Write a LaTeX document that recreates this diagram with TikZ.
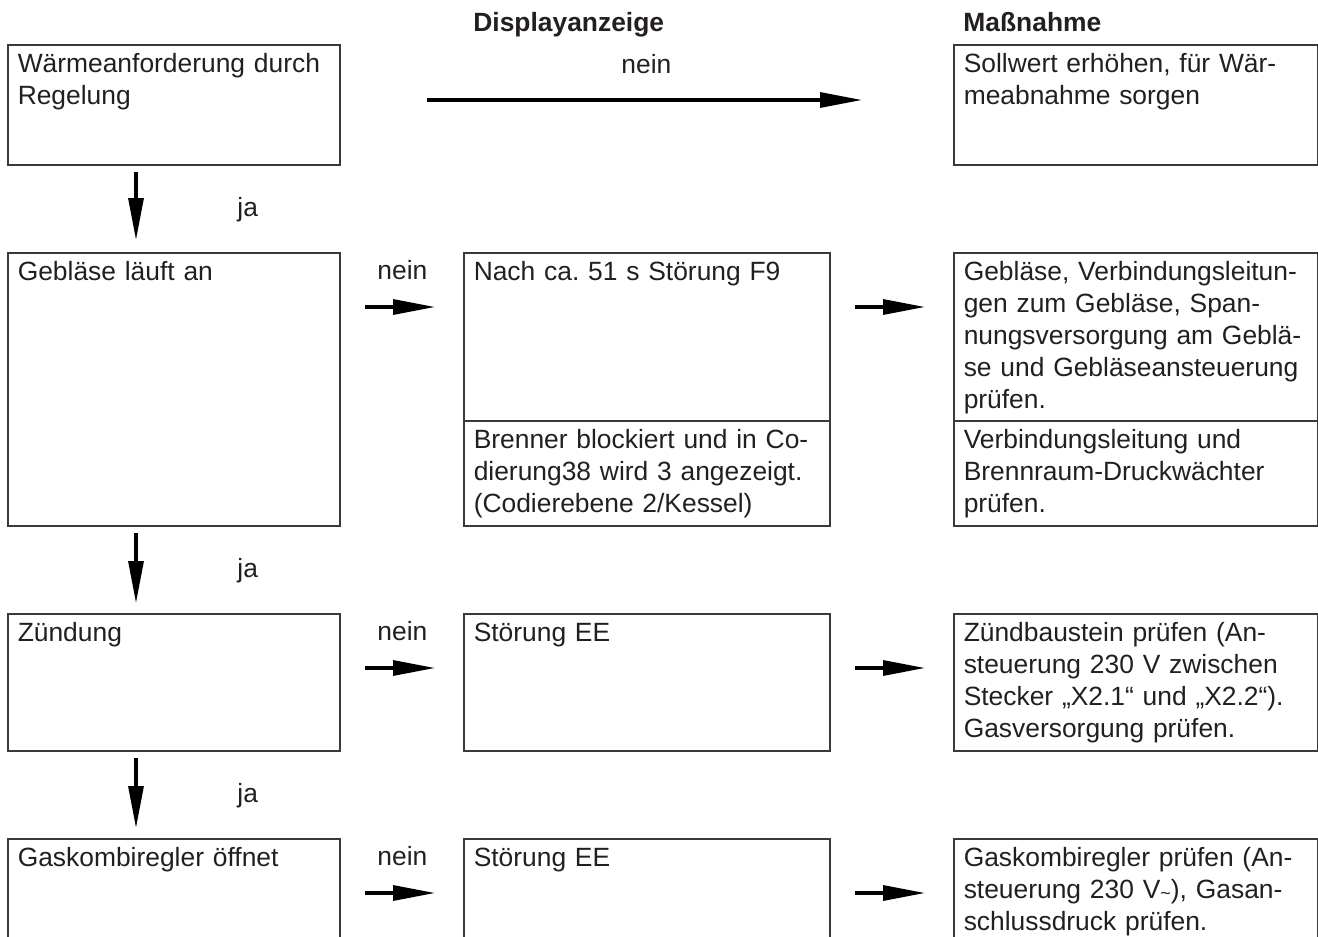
\documentclass[tikz,border=0pt]{standalone}
\usepackage{fontspec}
\setmainfont{Liberation Sans}
\usetikzlibrary{arrows.meta}
\definecolor{ink}{HTML}{231F20}
\definecolor{frame}{HTML}{3A3A3A}
\frenchspacing
\begin{document}
\begin{tikzpicture}[x=0.5pt,y=-0.5pt,
  font=\fontsize{13.2pt}{16pt}\selectfont\frenchspacing,
  box/.style={draw=frame, line width=0.75pt, anchor=north west, inner xsep=5pt, inner ysep=0pt,
              text height=14pt, align=left, text=ink},
  lbox/.style={box, text width=156pt},
  mbox/.style={box, text width=173pt},
  rbox/.style={box, text width=172pt},
  lab/.style={text=ink, inner sep=0pt, anchor=base west},
  head/.style={lab, font=\fontsize{13.2pt}{16pt}\selectfont\bfseries},
  arr/.style={line width=1.6pt, draw=black, -{Triangle[length=21pt,width=7.5pt]}},
]
\clip (0,0) rectangle (1318,937);

% headers
\node[head] (hd) at (473,32) {Displayanzeige};
\node[head] (hm) at (963,32) {Maßnahme};

% row 1
\node[lbox, text depth=46pt] (b1) at (7,44) {Wärmeanforderung durch\\Regelung};
\node[rbox, text depth=46pt] (r1) at (953,44) {Sollwert erhöhen, für Wär-\\meabnahme sorgen};

% row 2
\node[lbox, text depth=122.5pt] (b2) at (7,252) {Gebläse läuft an};
\node[mbox, text depth=70pt] (m2a) at (463,252) {Nach ca. 51 s Störung F9};
\node[mbox, text depth=38.5pt] (m2b) at (463,420) {Brenner blockiert und in Co-\\dierung38 wird 3 angezeigt.\\(Codierebene 2/Kessel)};
\node[rbox, text depth=70pt] (r2a) at (953,252) {Gebläse, Verbindungsleitun-\\gen zum Gebläse, Span-\\nungsversorgung am Gebl\"a-\\se und Gebläseansteuerung\\prüfen.};
\node[rbox, text depth=38.5pt] (r2b) at (953,420) {Verbindungsleitung und\\Brennraum-Druckwächter\\prüfen.};

% row 3
\node[lbox, text depth=54.5pt] (b3) at (7,613) {Zündung};
\node[mbox, text depth=54.5pt] (m3) at (463,613) {Störung EE};
\node[rbox, text depth=54.5pt] (r3) at (953,613) {Zündbaustein prüfen (An-\\steuerung 230 V zwischen\\Stecker „X2.1“ und „X2.2“).\\Gasversorgung prüfen.};

% row 4 (cut off at the bottom)
\node[lbox, text depth=52pt] (b4) at (7,838) {Gaskombiregler öffnet};
\node[mbox, text depth=52pt] (m4) at (463,838) {Störung EE};
\node[rbox, text depth=52pt] (r4) at (953,838) {Gaskombiregler prüfen (An-\\steuerung 230 V{\fontsize{9pt}{9pt}\selectfont\raisebox{-0.5pt}{\char"7E}}), Gasan-\\schlussdruck prüfen.};

% labels
\node[lab] (n1) at (621,73) {nein};
\node[lab] (n2) at (377,279) {nein};
\node[lab] (n3) at (377,640) {nein};
\node[lab] (n4) at (377,865) {nein};
\node[lab] (j1) at (237,216) {ja};
\node[lab] (j2) at (237,577) {ja};
\node[lab] (j3) at (237,802) {ja};

% arrow end points
\coordinate (t0) at (427,100);  \coordinate (t1) at (862,100);
\coordinate (v1a) at (136,172); \coordinate (v1b) at (136,240);
\coordinate (v2a) at (136,533); \coordinate (v2b) at (136,603);
\coordinate (v3a) at (136,758); \coordinate (v3b) at (136,828);
\coordinate (h2a) at (365,307); \coordinate (h2b) at (435,307);
\coordinate (h2c) at (855,307); \coordinate (h2d) at (925,307);
\coordinate (h3a) at (365,668); \coordinate (h3b) at (435,668);
\coordinate (h3c) at (855,668); \coordinate (h3d) at (925,668);
\coordinate (h4a) at (365,893); \coordinate (h4b) at (435,893);
\coordinate (h4c) at (855,893); \coordinate (h4d) at (925,893);

\draw[arr] (t0) -- (t1);
\draw[arr] (v1a) -- (v1b);
\draw[arr] (v2a) -- (v2b);
\draw[arr] (v3a) -- (v3b);
\draw[arr] (h2a) -- (h2b);
\draw[arr] (h2c) -- (h2d);
\draw[arr] (h3a) -- (h3b);
\draw[arr] (h3c) -- (h3d);
\draw[arr] (h4a) -- (h4b);
\draw[arr] (h4c) -- (h4d);
\end{tikzpicture}
\end{document}
